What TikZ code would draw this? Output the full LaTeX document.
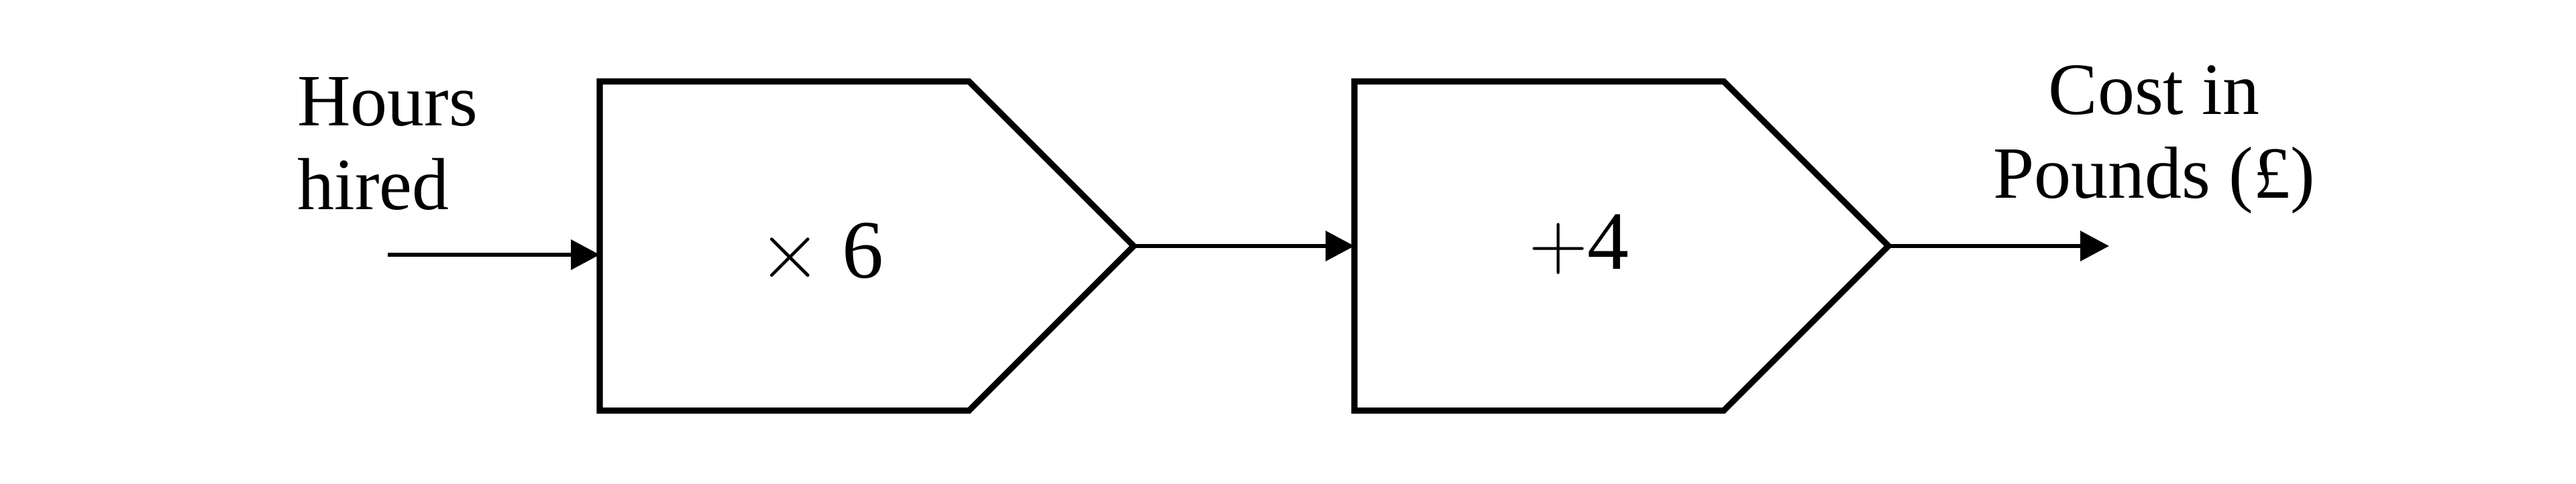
\documentclass[tikz,border=0pt]{standalone}
\usepackage{fontspec}
\setmainfont{Liberation Serif}
\usetikzlibrary{backgrounds}
\usetikzlibrary{positioning,shapes.symbols,arrows.meta}

\tikzset{
    opbox/.style={draw, line width=1.3pt, signal, signal to=east,
        signal pointer angle=90, minimum width=3.98cm,
        minimum height=2.455cm, inner sep=0pt, outer sep=0pt},
    optext/.style={font=\fontsize{17.6}{20}\selectfont, inner sep=0pt},
    tag/.style={font=\fontsize{15.65}{17.8}\selectfont, inner sep=0pt},
    flow/.style={line width=0.95pt, -{Triangle[length=0.215cm,width=0.22cm]}},
}

\begin{document}
\begin{tikzpicture}[
    show background rectangle,
    tight background=0,
    background rectangle/.style={fill=white},
 ]
    \useasboundingbox (0,0) rectangle (19.2,3.61);

    \node[opbox, anchor=west] at (4.47,1.775) (times) {};
    \node[opbox, right=1.645cm of times] (plus) {};

    \node[optext, anchor=base] at (6.12,1.535) (timeslbl) {$\times$ 6};
    \node[optext, anchor=base] at (11.77,1.6) (pluslbl) {$+$4};

    \node[tag, align=left, anchor=base west] at (2.21,2.045) (hours) {Hours\\hired};
    \node[tag, align=center, anchor=base] at (16.055,2.13) (cost) {Cost in\\Pounds (£)};

    \coordinate (hrsin) at (2.89,1.71);
    \coordinate (costout) at (15.72,1.775);
    \draw[flow] (hrsin) -- (hrsin -| times.west);
    \draw[flow] (times.east) -- (plus.west);
    \draw[flow] (plus.east) -- (costout);
\end{tikzpicture}
\end{document}
